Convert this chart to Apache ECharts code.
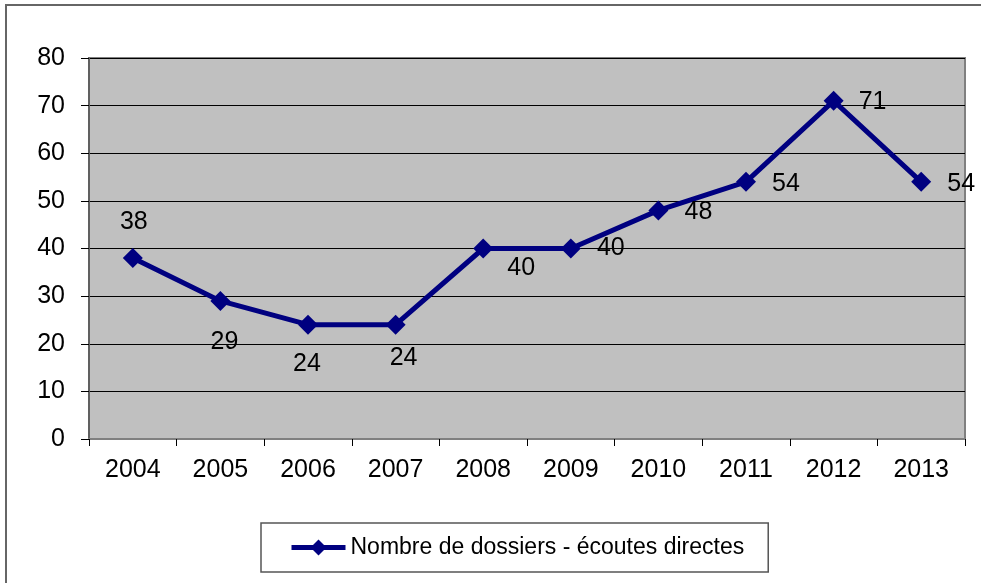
<!DOCTYPE html>
<html>
<head>
<meta charset="utf-8">
<script src="https://cdn.jsdelivr.net/npm/echarts@6/dist/echarts.min.js"></script>
<style>
html,body{margin:0;padding:0;background:#fff;}
#c{width:981px;height:583px;}
</style>
</head>
<body>
<div id="c"></div>
<script>
var years = ['2004','2005','2006','2007','2008','2009','2010','2011','2012','2013'];
var values = [38, 29, 24, 24, 40, 40, 48, 54, 71, 54];
var labelOffsets = [[1,-36],[4,41],[-1,39],[8,33],[38,20],[40,0],[40,2],[40,2],[39,1],[40,2]];
var seriesName = 'Nombre de dossiers - écoutes directes';
var yTicks = {min: 0, max: 80, interval: 10};

var font = '"Liberation Sans", Arial, sans-serif';
var chart = echarts.init(document.getElementById('c'));
var dataItems = values.map(function(v, i){
  return {value: v, label: {offset: labelOffsets[i]}};
});
chart.setOption({
  animation: false,
  backgroundColor: '#fff',
  graphic: [{
    type: 'polyline', silent: true,
    shape: {points: [[6, 600], [6, 5], [1000, 5]]},
    style: {fill: 'none', stroke: '#666', lineWidth: 2}
  }],
  grid: {left: 89, top: 58, right: 16, bottom: 144, show: true,
    backgroundColor: '#C0C0C0', borderColor: '#808080', borderWidth: 2},
  legend: {
    left: 261, top: 523,
    padding: [13, 24, 13, 28],
    borderColor: '#555', borderWidth: 1.5,
    itemWidth: 54, itemHeight: 20,
    lineStyle: {width: 5, color: '#000080'},
    textStyle: {fontFamily: font, fontSize: 23, color: '#000'},
    data: [seriesName]
  },
  xAxis: {
    type: 'category', data: years, boundaryGap: true,
    axisLine: {lineStyle: {color: '#808080', width: 2}},
    axisTick: {show: true, length: 7, lineStyle: {color: '#000', width: 1}},
    axisLabel: {fontFamily: font, fontSize: 25, color: '#000', margin: 19}
  },
  yAxis: {
    type: 'value', min: yTicks.min, max: yTicks.max, interval: yTicks.interval,
    axisLine: {show: true, lineStyle: {color: '#606060', width: 2}},
    axisTick: {show: true, length: 8, lineStyle: {color: '#000', width: 1}},
    splitLine: {show: true, lineStyle: {color: '#000', width: 1}},
    axisLabel: {fontFamily: font, fontSize: 25, color: '#000', margin: 24}
  },
  series: [{
    name: seriesName, type: 'line', data: dataItems,
    symbol: 'diamond', symbolSize: 20,
    itemStyle: {color: '#000080'},
    lineStyle: {color: '#000080', width: 5},
    label: {show: true, position: 'inside', fontFamily: font, fontSize: 25, color: '#000'}
  }]
});
</script>
</body>
</html>
